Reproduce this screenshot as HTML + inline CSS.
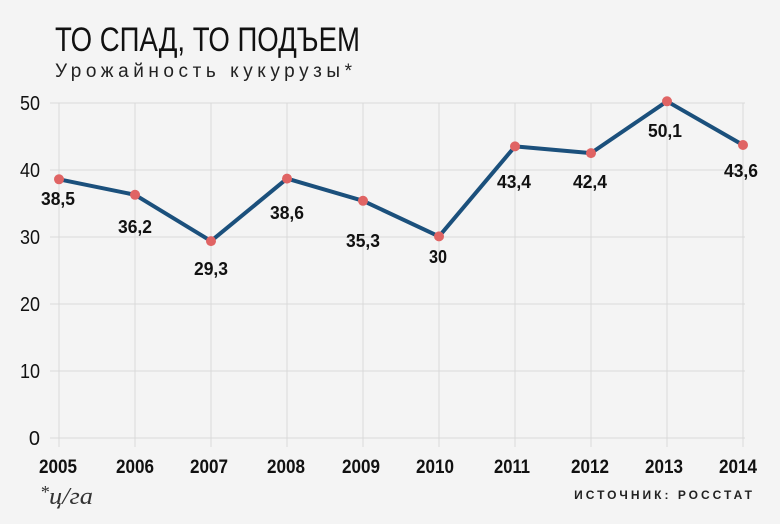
<!DOCTYPE html>
<html><head><meta charset="utf-8"><style>
html,body{margin:0;padding:0;background:#f4f4f4;}
svg{display:block;}
text{font-family:"Liberation Sans Narrow","Liberation Sans",sans-serif;}
</style></head><body>
<svg width="780" height="524" viewBox="0 0 780 524">
<rect width="780" height="524" fill="#f4f4f4"/>
<text x="55" y="51" font-size="34" fill="#111" textLength="305" lengthAdjust="spacingAndGlyphs">ТО СПАД, ТО ПОДЪЕМ</text>
<text x="55" y="77" font-size="19" fill="#222" textLength="300" lengthAdjust="spacing" letter-spacing="3">Урожайность кукурузы*</text>
<g stroke="#dadada" stroke-width="1">
<line x1="50" y1="103" x2="745" y2="103"/>
<line x1="50" y1="170" x2="745" y2="170"/>
<line x1="50" y1="237" x2="745" y2="237"/>
<line x1="50" y1="304" x2="745" y2="304"/>
<line x1="50" y1="371" x2="745" y2="371"/>
<line x1="50" y1="438" x2="745" y2="438"/>
<line x1="59" y1="103" x2="59" y2="447"/>
<line x1="135" y1="103" x2="135" y2="447"/>
<line x1="211" y1="103" x2="211" y2="447"/>
<line x1="287" y1="103" x2="287" y2="447"/>
<line x1="363" y1="103" x2="363" y2="447"/>
<line x1="439" y1="103" x2="439" y2="447"/>
<line x1="515" y1="103" x2="515" y2="447"/>
<line x1="591" y1="103" x2="591" y2="447"/>
<line x1="667" y1="103" x2="667" y2="447"/>
<line x1="743" y1="103" x2="743" y2="447"/>
</g>
<g font-size="20" fill="#111" text-anchor="end">
<text x="40" y="110" textLength="20" lengthAdjust="spacingAndGlyphs">50</text><text x="40" y="177" textLength="20" lengthAdjust="spacingAndGlyphs">40</text><text x="40" y="244" textLength="20" lengthAdjust="spacingAndGlyphs">30</text>
<text x="40" y="311" textLength="20" lengthAdjust="spacingAndGlyphs">20</text><text x="40" y="378" textLength="20" lengthAdjust="spacingAndGlyphs">10</text><text x="40" y="445">0</text>
</g>
<g font-size="19" font-weight="bold" fill="#111" text-anchor="middle">
<text x="58" y="473" textLength="38" lengthAdjust="spacingAndGlyphs">2005</text>
<text x="135" y="473" textLength="38" lengthAdjust="spacingAndGlyphs">2006</text>
<text x="209" y="473" textLength="38" lengthAdjust="spacingAndGlyphs">2007</text>
<text x="286" y="473" textLength="38" lengthAdjust="spacingAndGlyphs">2008</text>
<text x="361" y="473" textLength="38" lengthAdjust="spacingAndGlyphs">2009</text>
<text x="435" y="473" textLength="38" lengthAdjust="spacingAndGlyphs">2010</text>
<text x="512" y="473" textLength="36" lengthAdjust="spacingAndGlyphs">2011</text>
<text x="590" y="473" textLength="38" lengthAdjust="spacingAndGlyphs">2012</text>
<text x="664" y="473" textLength="38" lengthAdjust="spacingAndGlyphs">2013</text>
<text x="738" y="473" textLength="38" lengthAdjust="spacingAndGlyphs">2014</text>
</g>
<polyline fill="none" stroke="#1b507c" stroke-width="4" stroke-linejoin="round" points="59,179.3 135,194.8 211,241.1 287,178.6 363,200.8 439,236.4 515,146.4 591,153.1 667,101.3 743,145"/>
<g fill="#e06464">
<circle cx="59" cy="179.3" r="5"/><circle cx="135" cy="194.8" r="5"/><circle cx="211" cy="241.1" r="5"/>
<circle cx="287" cy="178.6" r="5"/><circle cx="363" cy="200.8" r="5"/><circle cx="439" cy="236.4" r="5"/>
<circle cx="515" cy="146.4" r="5"/><circle cx="591" cy="153.1" r="5"/><circle cx="667" cy="101.3" r="5"/>
<circle cx="743" cy="145" r="5"/>
</g>
<g font-size="18" font-weight="bold" fill="#111" text-anchor="middle">
<text x="58" y="205" textLength="34" lengthAdjust="spacingAndGlyphs">38,5</text>
<text x="135" y="233" textLength="34" lengthAdjust="spacingAndGlyphs">36,2</text>
<text x="211" y="275" textLength="34" lengthAdjust="spacingAndGlyphs">29,3</text>
<text x="287" y="219" textLength="34" lengthAdjust="spacingAndGlyphs">38,6</text>
<text x="363" y="247" textLength="34" lengthAdjust="spacingAndGlyphs">35,3</text>
<text x="438" y="263" textLength="18" lengthAdjust="spacingAndGlyphs">30</text>
<text x="514" y="188" textLength="34" lengthAdjust="spacingAndGlyphs">43,4</text>
<text x="590" y="188" textLength="34" lengthAdjust="spacingAndGlyphs">42,4</text>
<text x="665" y="137" textLength="34" lengthAdjust="spacingAndGlyphs">50,1</text>
<text x="741" y="177" textLength="34" lengthAdjust="spacingAndGlyphs">43,6</text>
</g>
<text x="40" y="498" style="font-family:'Liberation Serif',serif;font-style:italic" font-size="18" fill="#333">*</text>
<text x="49" y="504" style="font-family:'Liberation Serif',serif;font-style:italic" font-size="24" fill="#333" textLength="44" lengthAdjust="spacingAndGlyphs">ц/га</text>
<text x="755" y="499" font-size="12" font-weight="bold" fill="#222" text-anchor="end" letter-spacing="3">ИСТОЧНИК: РОССТАТ</text>
</svg>
</body></html>
